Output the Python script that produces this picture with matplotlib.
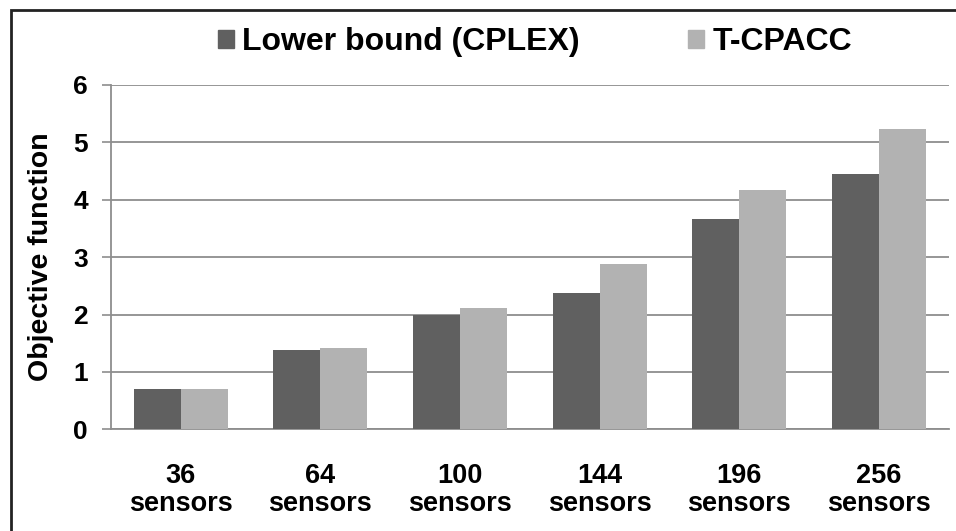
import matplotlib.pyplot as plt
import numpy as np
from matplotlib.patches import Patch, Rectangle

# --- DATA ---
CATEGORIES = ["36\nsensors", "64\nsensors", "100\nsensors",
              "144\nsensors", "196\nsensors", "256\nsensors"]
LOWER_BOUND = [0.71, 1.39, 1.99, 2.37, 3.66, 4.45]
T_CPACC = [0.71, 1.42, 2.12, 2.88, 4.17, 5.24]
SERIES_NAMES = ["Lower bound (CPLEX)", "T-CPACC"]
Y_TICKS = [0, 1, 2, 3, 4, 5, 6]

DARK = "#606060"
LIGHT = "#b2b2b2"
GRID = "#8e8e8e"

plt.rcParams['font.family'] = ['Liberation Sans', 'DejaVu Sans']
plt.rcParams['font.weight'] = 'bold'


def main():
    fig = plt.figure(figsize=(9.56, 5.31), dpi=100)
    ax = fig.add_axes([110.7 / 956, 1 - 429.3 / 531,
                       (949 - 110.7) / 956, (429.3 - 85) / 531])

    x = np.arange(len(CATEGORIES))
    w = 0.336
    ax.bar(x - w / 2, LOWER_BOUND, width=w, color=DARK, zorder=3)
    ax.bar(x + w / 2, T_CPACC, width=w, color=LIGHT, zorder=3)

    ax.set_xlim(-0.5, len(CATEGORIES) - 0.5)
    ax.set_ylim(0, 6)
    ax.set_yticks(Y_TICKS)
    ax.set_xticks(x)
    ax.set_xticklabels(CATEGORIES, fontsize=19.5, fontweight='bold',
                       linespacing=1.1)
    ax.tick_params(axis='x', length=0, pad=24)
    ax.tick_params(axis='y', length=6.5, width=1.2, color=GRID, pad=10,
                   labelsize=19)
    for lab in ax.get_yticklabels():
        lab.set_fontweight('bold')

    ax.yaxis.grid(True, color=GRID, linewidth=1.3, zorder=0)
    for side in ['top', 'right']:
        ax.spines[side].set_visible(False)
    for side in ['left', 'bottom']:
        ax.spines[side].set_color(GRID)
        ax.spines[side].set_linewidth(1.3)

    ax.set_ylabel("Objective function", fontsize=20.5, fontweight='bold',
                  labelpad=14)

    handles = [Patch(color=DARK), Patch(color=LIGHT)]
    fig.legend(handles, SERIES_NAMES, ncol=2, loc='center',
               bbox_to_anchor=(535 / 956, 1 - 42 / 531), frameon=False,
               prop={'size': 23, 'weight': 'bold'},
               handlelength=0.5, handleheight=0.5, handletextpad=0.25,
               columnspacing=3.4)

    # outer frame (only left/top edges visible in the original crop)
    fig.patches.append(Rectangle((10.5 / 956, -0.1), 1.2, 1 - 9.5 / 531 + 0.1,
                                 transform=fig.transFigure, fill=False,
                                 edgecolor='#222222', linewidth=2))

    fig.savefig("out.png", dpi=100)
    plt.close(fig)


if __name__ == '__main__':
    main()
